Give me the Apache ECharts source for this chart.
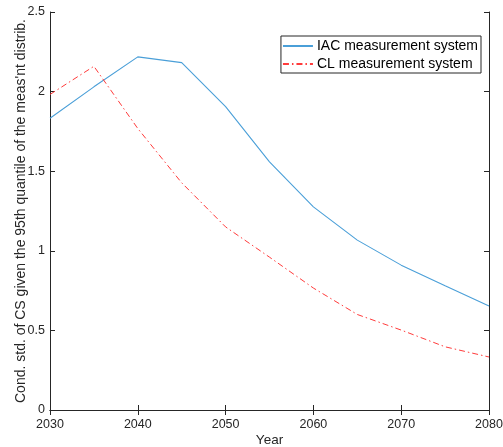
<!DOCTYPE html>
<html><head><meta charset="utf-8">
<script src="https://cdn.jsdelivr.net/npm/echarts@6/dist/echarts.min.js"></script>
<style>html,body{margin:0;padding:0;background:#fff}#c{width:503px;height:447px}</style>
</head><body><div id="c"></div>
<script>
const years = [2030, 2035, 2040, 2045, 2050, 2055, 2060, 2065, 2070, 2075, 2080];
const iac = [1.833, 2.03, 2.218, 2.182, 1.906, 1.559, 1.276, 1.067, 0.91, 0.78, 0.653];
const cl = [1.982, 2.159, 1.768, 1.427, 1.15, 0.96, 0.766, 0.60, 0.502, 0.397, 0.333];
const seriesNames = ['IAC measurement system', 'CL measurement system'];
const yLabel = "Cond. std. of CS given the 95th quantile of the meas'nt distrib.";
const xLabel = 'Year';

const font = 'Liberation Sans, Arial, Helvetica, sans-serif';
const axisCol = '#262626';
const chart = echarts.init(document.getElementById('c'), null, {renderer: 'canvas'});
const baseX = {
  type: 'value', min: 2030, max: 2080, interval: 10,
  axisLine: {show: true, lineStyle: {color: axisCol, width: 1}},
  axisTick: {show: true, inside: true, length: 5, lineStyle: {color: axisCol}},
  splitLine: {show: false}
};
const baseY = {
  type: 'value', min: 0, max: 2.5, interval: 0.5,
  axisLine: {show: true, lineStyle: {color: axisCol, width: 1}},
  axisTick: {show: true, inside: true, length: 5, lineStyle: {color: axisCol}},
  splitLine: {show: false}
};
chart.setOption({
  animation: false,
  backgroundColor: '#fff',
  grid: {left: 50, right: 14, top: 12, bottom: 37, containLabel: false, outerBoundsMode: 'none'},
  xAxis: [
    Object.assign({}, baseX, {
      position: 'bottom',
      name: xLabel, nameLocation: 'middle', nameGap: 30, nameMoveOverlap: false,
      nameTextStyle: {fontFamily: font, fontSize: 13.5, color: axisCol, verticalAlign: 'middle'},
      axisLabel: {fontFamily: font, fontSize: 12.5, color: axisCol, margin: 8,
        formatter: v => String(v)}
    }),
    Object.assign({}, baseX, {position: 'top', axisLabel: {show: false}})
  ],
  yAxis: [
    Object.assign({}, baseY, {
      position: 'left',
      name: yLabel, nameLocation: 'middle', nameGap: 29, nameRotate: 90, nameMoveOverlap: false,
      nameTextStyle: {fontFamily: font, fontSize: 14, color: axisCol, verticalAlign: 'middle'},
      axisLabel: {fontFamily: font, fontSize: 12.5, color: axisCol, margin: 5}
    }),
    Object.assign({}, baseY, {position: 'right', axisLabel: {show: false}})
  ],
  legend: {
    orient: 'vertical', right: 22, top: 36,
    backgroundColor: '#fff',
    borderColor: axisCol, borderWidth: 1, borderRadius: 0,
    padding: [3, 3, 2, 1],
    itemWidth: 30, itemHeight: 12, itemGap: 4,
    itemStyle: {opacity: 0},
    textStyle: {fontFamily: font, fontSize: 14, color: '#000', padding: [0, 0, 0, -1]},
    data: seriesNames
  },
  series: [
    {
      name: seriesNames[0], type: 'line', xAxisIndex: 0, yAxisIndex: 0,
      data: years.map((y, i) => [y, iac[i]]),
      symbol: 'none', showSymbol: false,
      lineStyle: {color: '#4a9fd8', width: 1.1},
      itemStyle: {color: '#4a9fd8'}
    },
    {
      name: seriesNames[1], type: 'line', xAxisIndex: 0, yAxisIndex: 0,
      data: years.map((y, i) => [y, cl[i]]),
      symbol: 'none', showSymbol: false,
      lineStyle: {color: '#ff3b3b', width: 1, type: [6, 3, 1.5, 3]},
      itemStyle: {color: '#ff3b3b'}
    }
  ]
});
</script></body></html>
